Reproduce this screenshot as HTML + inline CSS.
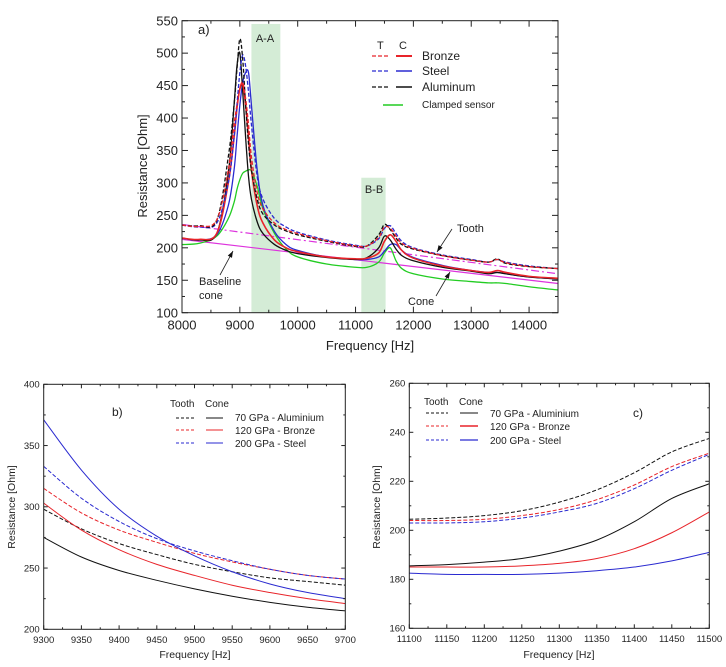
<!DOCTYPE html>
<html><head><meta charset="utf-8"><style>
html,body{margin:0;padding:0;background:#fff;}
svg{display:block;font-family:"Liberation Sans",sans-serif;}
</style></head><body>
<svg id="fig" width="726" height="667" viewBox="0 0 726 667" xmlns="http://www.w3.org/2000/svg"></svg>
<script>
// ---------- Panel a data ----------
const aFreq=[8000,8300,8600,8800,8900,8950,9000,9050,9100,9150,9200,9300,9400,9600,9800,10000,10500,11000,11200,11400,11500,11600,11700,11800,12000,12500,13000,13300,13450,13600,14000,14500];
const aAlTooth=[235,234,242,340,420,475,522,490,420,360,320,275,252,235,226,220,210,202,203,220,236,228,215,205,198,188,181,178,183,176,171,168];
const aAlCone=[215,212,222,315,420,480,500,440,370,310,275,240,222,205,196,191,185,182,185,200,218,212,198,188,180,170,164,160,162,160,155,152];
const aStTooth=[235,232,238,300,370,420,470,497,480,440,390,310,275,245,232,224,212,204,203,214,230,234,222,210,200,189,182,178,182,178,172,168];
const aStCone=[215,212,220,265,320,370,420,455,470,470,420,320,265,225,205,196,186,182,182,186,195,205,205,196,185,173,165,162,162,160,155,152];
const aBrTooth=[235,233,243,320,390,420,445,455,430,390,340,285,260,238,228,222,211,203,203,216,232,230,218,207,199,188,181,178,182,177,171,168];
const aBrCone=[215,213,222,300,370,415,445,452,420,370,320,265,238,212,200,194,186,183,184,192,210,220,210,196,184,172,165,162,165,162,156,153];
const aClamped=[205,207,218,245,270,290,305,315,318,320,318,295,260,222,198,186,175,170,170,178,192,200,180,168,160,152,148,146,146,145,140,135];
const aBaseFreq=[8000,14500];
const aBaseCone=[213,145];
const aBaseTooth=[236,160];
const aXTicks=[8000,9000,10000,11000,12000,13000,14000];
const aYTicks=[100,150,200,250,300,350,400,450,500,550];
// ---------- Panel b data ----------
const bFreq=[9300,9350,9400,9450,9500,9550,9600,9650,9700];
const bStCone=[371,330,298,276,260,247,237,230,225];
const bStTooth=[333,307,288,274,264,256,249,244,241];
const bBrTooth=[315,295,281,271,262,255,249,244,241];
const bBrCone=[303,281,265,253,244,236,230,225,221];
const bAlTooth=[298,282,270,261,253,247,242,239,236];
const bAlCone=[275,259,248,240,233,227,222,218,215];
const bXTicks=[9300,9350,9400,9450,9500,9550,9600,9650,9700];
const bYTicks=[200,250,300,350,400];
// ---------- Panel c data ----------
const cFreq=[11100,11150,11200,11250,11300,11350,11400,11450,11500];
const cAlTooth=[204.5,205,206,208,211.5,216.5,223.5,232,237.5];
const cBrTooth=[204,204,204.5,206,208.5,212.5,218.5,226,231.5];
const cStTooth=[203,203,203.5,205,207.5,211,217,224.5,231];
const cAlCone=[185.5,186,187,188.5,191.5,196,203.5,213,219];
const cBrCone=[185,185,185,185.5,186.5,188.5,192.5,199,207.5];
const cStCone=[182.5,182,182,182,182.5,183.5,185,187.5,191];
const cXTicks=[11100,11150,11200,11250,11300,11350,11400,11450,11500];
const cYTicks=[160,180,200,220,240,260];

const NS="http://www.w3.org/2000/svg";
const svg=document.getElementById('fig');
function mk(tag,attrs,parent,text){const e=document.createElementNS(NS,tag);for(const k in attrs)e.setAttribute(k,attrs[k]);if(text!==undefined)e.textContent=text;(parent||svg).appendChild(e);return e;}
function scale(d0,d1,r0,r1){return v=>r0+(v-d0)*(r1-r0)/(d1-d0);}
function smoothPath(xs,ys){let d='M'+xs[0].toFixed(2)+','+ys[0].toFixed(2);for(let i=0;i<xs.length-1;i++){const x0=xs[Math.max(i-1,0)],y0=ys[Math.max(i-1,0)],x1=xs[i],y1=ys[i],x2=xs[i+1],y2=ys[i+1],x3=xs[Math.min(i+2,xs.length-1)],y3=ys[Math.min(i+2,xs.length-1)];const c1x=x1+(x2-x0)/6,c1y=y1+(y2-y0)/6,c2x=x2-(x3-x1)/6,c2y=y2-(y3-y1)/6;d+=' C'+c1x.toFixed(2)+','+c1y.toFixed(2)+' '+c2x.toFixed(2)+','+c2y.toFixed(2)+' '+x2.toFixed(2)+','+y2.toFixed(2);}return d;}
function series(g,fx,fy,freq,vals,color,dash,w,name){const p=mk('path',{d:smoothPath(freq.map(fx),vals.map(fy)),fill:'none',stroke:color,'stroke-width':w||1.2,'stroke-dasharray':dash||'none'},g);

return p;}
function axes(g,fx,fy,x0,x1,y0,y1,xt,yt,xminor,yminor,fs,tl){
 const box=mk('rect',{x:fx(x0),y:fy(y1),width:fx(x1)-fx(x0),height:fy(y0)-fy(y1),fill:'none',stroke:'#222','stroke-width':1},g);
 
 for(let v=x0;v<=x1+1e-6;v+=xminor){const X=fx(v);const maj=xt.some(t=>Math.abs(t-v)<1e-6);const L=maj?tl:tl/2;mk('line',{x1:X,x2:X,y1:fy(y0),y2:fy(y0)-L,stroke:'#222'},g);mk('line',{x1:X,x2:X,y1:fy(y1),y2:fy(y1)+L,stroke:'#222'},g);}
 for(let v=y0;v<=y1+1e-6;v+=yminor){const Y=fy(v);const maj=yt.some(t=>Math.abs(t-v)<1e-6);const L=maj?tl:tl/2;mk('line',{x1:fx(x0),x2:fx(x0)+L,y1:Y,y2:Y,stroke:'#222'},g);mk('line',{x1:fx(x1),x2:fx(x1)-L,y1:Y,y2:Y,stroke:'#222'},g);}
 xt.forEach(t=>{const e=mk('text',{x:fx(t),y:fy(y0)+fs+4,'font-size':fs,'text-anchor':'middle',fill:'#222'},g,String(t));});
 yt.forEach(t=>{const e=mk('text',{x:fx(x0)-4,y:fy(t)+fs*0.35,'font-size':fs,'text-anchor':'end',fill:'#222'},g,String(t));});
}
function txt(g,x,y,s,fs,name,anchor,rot){const a={x:x,y:y,'font-size':fs,fill:'#222','text-anchor':anchor||'start'};if(rot)a.transform='rotate(-90 '+x+' '+y+')';const e=mk('text',a,g,s);

return e;}
function legLine(g,x1,x2,y,color,dash,w,name){const e=mk('line',{x1:x1,x2:x2,y1:y,y2:y,stroke:color,'stroke-width':w,'stroke-dasharray':dash||'none'},g);

}
function arrow(g,x1,y1,x2,y2,name){const l=mk('line',{x1:x1,y1:y1,x2:x2,y2:y2,stroke:'#222','stroke-width':0.8},g);


const ang=Math.atan2(y2-y1,x2-x1),s=7;const p1=[x2-s*Math.cos(ang-0.35),y2-s*Math.sin(ang-0.35)],p2=[x2-s*Math.cos(ang+0.35),y2-s*Math.sin(ang+0.35)];mk('polygon',{points:x2+','+y2+' '+p1.join(',')+' '+p2.join(','),fill:'#111'},g);}

const RED='#e8242a',BLUE='#2a2ad0',BLK='#111',GRN='#22cc22',MAG='#dd33dd';
// ---------- Panel a ----------
const gA=mk('g',{});
const ax=scale(8000,14500,182,558),ay=scale(100,550,312.7,20.7);
[[9200,9700,545],[11100,11520,308]].forEach((b,i)=>{const r=mk('rect',{x:ax(b[0]),y:ay(b[2]),width:ax(b[1])-ax(b[0]),height:ay(100)-ay(b[2]),fill:'#d4ecd6'},gA);});
series(gA,ax,ay,aBaseFreq,aBaseCone,MAG,null,1.2,'baseline-cone-line');
series(gA,ax,ay,aBaseFreq,aBaseTooth,MAG,'8,3,2,3',1.2,'baseline-tooth-line');
series(gA,ax,ay,aFreq,aClamped,GRN,null,1.3,'clamped-sensor-line');
series(gA,ax,ay,aFreq,aStCone,BLUE,null,1.3,'steel-cone-line');
series(gA,ax,ay,aFreq,aAlCone,BLK,null,1.3,'aluminum-cone-line');
series(gA,ax,ay,aFreq,aBrCone,RED,null,1.6,'bronze-cone-line');
series(gA,ax,ay,aFreq,aStTooth,BLUE,'4,2',1.3,'steel-tooth-line');
series(gA,ax,ay,aFreq,aAlTooth,BLK,'4,2',1.3,'aluminum-tooth-line');
series(gA,ax,ay,aFreq,aBrTooth,RED,'4,2',1.3,'bronze-tooth-line');
axes(gA,ax,ay,8000,14500,100,550,aXTicks,aYTicks,500,25,13,6);
txt(gA,370,350,'Frequency [Hz]',13,'x-axis-title','middle');
txt(gA,147,166,'Resistance [Ohm]',13,'y-axis-title','middle',true);
txt(gA,198,34,'a)',13,'panel-label-a');
txt(gA,265,42,'A-A',11,'band-label-a-a','middle');
txt(gA,374,193,'B-B',11,'band-label-b-b','middle');
txt(gA,377,49,'T',11,'legend-header-tooth');txt(gA,399,49,'C',11,'legend-header-cone');
legLine(gA,372,388,56,RED,'4,2',1.3,'legend-bronze-tooth');legLine(gA,396,412,56,RED,null,2,'legend-bronze-cone');txt(gA,422,60,'Bronze',12,'legend-bronze');
legLine(gA,372,388,71,BLUE,'4,2',1.3,'legend-steel-tooth');legLine(gA,396,412,71,BLUE,null,1.5,'legend-steel-cone');txt(gA,422,75,'Steel',12,'legend-steel');
legLine(gA,372,388,87,BLK,'4,2',1.3,'legend-aluminum-tooth');legLine(gA,396,412,87,BLK,null,1.5,'legend-aluminum-cone');txt(gA,422,91,'Aluminum',12,'legend-aluminum');
legLine(gA,383,403,105,GRN,null,1.5,'legend-clamped');txt(gA,422,108,'Clamped sensor',10,'legend-clamped-sensor');
txt(gA,457,232,'Tooth',11,'annotation-tooth');arrow(gA,452,229,437,252,'arrow-tooth');
txt(gA,199,285,'Baseline',11,'annotation-baseline');txt(gA,199,299,'cone',11,'annotation-cone-word');arrow(gA,220,275,233,251,'arrow-baseline');
txt(gA,408,305,'Cone',11,'annotation-cone');arrow(gA,436,296,450,272,'arrow-cone');
// ---------- Panel b ----------
const gB=mk('g',{});
const bx=scale(9300,9700,43.7,345.3),by=scale(200,400,629.3,384.3);
series(gB,bx,by,bFreq,bAlTooth,BLK,'4,2',1,'b-aluminium-tooth');
series(gB,bx,by,bFreq,bAlCone,BLK,null,1,'b-aluminium-cone');
series(gB,bx,by,bFreq,bBrTooth,RED,'4,2',1,'b-bronze-tooth');
series(gB,bx,by,bFreq,bBrCone,RED,null,1,'b-bronze-cone');
series(gB,bx,by,bFreq,bStTooth,BLUE,'4,2',1,'b-steel-tooth');
series(gB,bx,by,bFreq,bStCone,BLUE,null,1,'b-steel-cone');
axes(gB,bx,by,9300,9700,200,400,bXTicks,bYTicks,25,25,9.5,4);
txt(gB,195,658,'Frequency [Hz]',10.5,'b-x-axis-title','middle');
txt(gB,15,507,'Resistance [Ohm]',10.5,'b-y-axis-title','middle',true);
txt(gB,112,416,'b)',12,'panel-label-b');
txt(gB,170,407,'Tooth',10,'b-legend-tooth');txt(gB,205,407,'Cone',10,'b-legend-cone');
legLine(gB,176,194,418,BLK,'3,2',1,'b-leg-al-t');legLine(gB,206,223,418,BLK,null,1,'b-leg-al-c');txt(gB,235,421,'70 GPa - Aluminium',10,'b-legend-aluminium');
legLine(gB,176,194,430,RED,'3,2',1,'b-leg-br-t');legLine(gB,206,223,430,RED,null,1,'b-leg-br-c');txt(gB,235,434,'120 GPa - Bronze',10,'b-legend-bronze');
legLine(gB,176,194,443,BLUE,'3,2',1,'b-leg-st-t');legLine(gB,206,223,443,BLUE,null,1,'b-leg-st-c');txt(gB,235,447,'200 GPa - Steel',10,'b-legend-steel');
// ---------- Panel c ----------
const gC=mk('g',{});
const cx=scale(11100,11500,409.3,709.3),cy=scale(160,260,628.3,383.3);
series(gC,cx,cy,cFreq,cAlTooth,BLK,'4,2',1,'c-aluminium-tooth');
series(gC,cx,cy,cFreq,cBrTooth,RED,'4,2',1,'c-bronze-tooth');
series(gC,cx,cy,cFreq,cStTooth,BLUE,'4,2',1,'c-steel-tooth');
series(gC,cx,cy,cFreq,cAlCone,BLK,null,1,'c-aluminium-cone');
series(gC,cx,cy,cFreq,cBrCone,RED,null,1,'c-bronze-cone');
series(gC,cx,cy,cFreq,cStCone,BLUE,null,1,'c-steel-cone');
axes(gC,cx,cy,11100,11500,160,260,cXTicks,cYTicks,25,10,9.5,4);
txt(gC,559,658,'Frequency [Hz]',10.5,'c-x-axis-title','middle');
txt(gC,380,507,'Resistance [Ohm]',10.5,'c-y-axis-title','middle',true);
txt(gC,633,417,'c)',12,'panel-label-c');
txt(gC,424,405,'Tooth',10,'c-legend-tooth');txt(gC,459,405,'Cone',10,'c-legend-cone');
legLine(gC,426,448,413,BLK,'3,2',1,'c-leg-al-t');legLine(gC,460,478,413,BLK,null,1,'c-leg-al-c');txt(gC,490,417,'70 GPa - Aluminium',10,'c-legend-aluminium');
legLine(gC,426,448,426,RED,'3,2',1,'c-leg-br-t');legLine(gC,460,478,426,RED,null,1.4,'c-leg-br-c');txt(gC,490,430,'120 GPa - Bronze',10,'c-legend-bronze');
legLine(gC,426,448,440,BLUE,'3,2',1,'c-leg-st-t');legLine(gC,460,478,440,BLUE,null,1.2,'c-leg-st-c');txt(gC,490,444,'200 GPa - Steel',10,'c-legend-steel');
</script>
</body></html>
